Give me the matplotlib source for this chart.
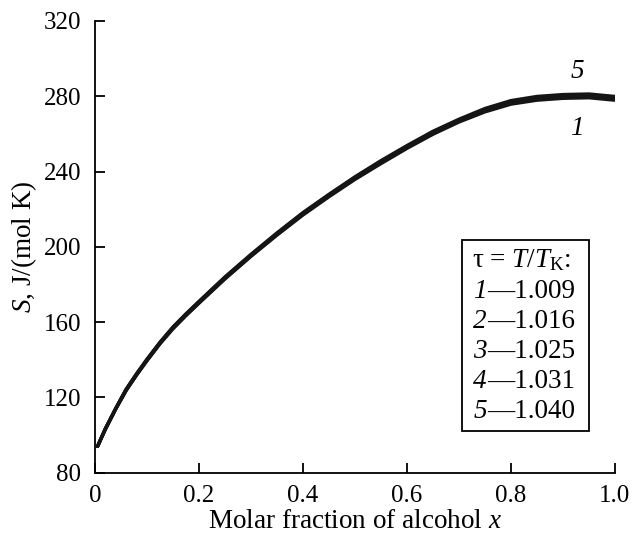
import matplotlib
matplotlib.use("Agg")
import matplotlib.pyplot as plt
from matplotlib.patches import Rectangle

plt.rcParams["font.family"] = ["Liberation Serif", "DejaVu Serif"]
plt.rcParams["mathtext.fontset"] = "custom"
plt.rcParams["mathtext.rm"] = "Liberation Serif"
plt.rcParams["mathtext.it"] = "Liberation Serif:italic"

# molar fraction of alcohol
X = [0.005, 0.02, 0.04, 0.06, 0.08, 0.10, 0.125, 0.15, 0.175, 0.20, 0.25,
     0.30, 0.35, 0.40, 0.45, 0.50, 0.55, 0.60, 0.65, 0.70, 0.75, 0.80,
     0.85, 0.90, 0.95, 1.00]

# entropy S, J/(mol K), curves 1..5
S1 = [94.0, 103.0, 113.8, 123.6, 131.8, 139.4, 148.4, 156.4, 163.4, 170.0,
      182.9, 194.9, 206.2, 216.9, 226.6, 235.8, 244.2, 252.3, 259.8, 266.3,
      271.7, 275.8, 277.9, 278.9, 279.2, 277.9]
S2 = [94.0, 103.1, 113.9, 123.8, 132.0, 139.7, 148.7, 156.7, 163.7, 170.3,
      183.2, 195.2, 206.5, 217.2, 227.0, 236.2, 244.6, 252.7, 260.2, 266.7,
      272.2, 276.3, 278.4, 279.4, 279.7, 278.4]
S3 = [94.0, 103.2, 114.0, 124.0, 132.2, 139.9, 148.9, 157.0, 164.0, 170.6,
      183.5, 195.4, 206.8, 217.6, 227.3, 236.6, 245.0, 253.0, 260.6, 267.0,
      272.6, 276.7, 278.9, 279.9, 280.2, 278.9]
S4 = [94.0, 103.3, 114.1, 124.2, 132.4, 140.1, 149.1, 157.2, 164.2, 170.8,
      183.8, 195.7, 207.1, 217.9, 227.6, 236.9, 245.4, 253.4, 261.0, 267.4,
      273.0, 277.2, 279.4, 280.4, 280.7, 279.4]
S5 = [94.0, 103.4, 114.2, 124.4, 132.6, 140.3, 149.3, 157.4, 164.4, 171.0,
      184.0, 196.0, 207.4, 218.2, 227.9, 237.2, 245.8, 253.8, 261.4, 267.8,
      273.5, 277.7, 279.9, 280.9, 281.2, 279.9]
CURVES = [S1, S2, S3, S4, S5]

CURVE_NUMS = ["1", "2", "3", "4", "5"]
TAU = ["1.009", "1.016", "1.025", "1.031", "1.040"]

X_TICKS = [0, 0.2, 0.4, 0.6, 0.8, 1.0]
X_TICKLABELS = ["0", "0.2", "0.4", "0.6", "0.8", "1.0"]
Y_TICKS = [80, 120, 160, 200, 240, 280, 320]

FS_TICK = 18
FS = 19.5


def main():
    fig = plt.figure(figsize=(6.34, 5.42), dpi=100)
    ax = fig.add_axes([0.1498, 0.128, 0.8202, 0.8333])

    for s in CURVES:
        ax.plot(X, s, color="#151515", linewidth=2.4, solid_capstyle="round",
                solid_joinstyle="round")

    ax.set_xlim(0, 1.0)
    ax.set_ylim(80, 320)
    ax.set_xticks(X_TICKS)
    ax.set_xticklabels(X_TICKLABELS)
    ax.set_yticks(Y_TICKS)

    for side in ("top", "right"):
        ax.spines[side].set_visible(False)
    for side in ("left", "bottom"):
        ax.spines[side].set_linewidth(1.3)
    ax.tick_params(direction="in", length=7, width=1.3, labelsize=FS_TICK)
    ax.tick_params(axis="x", pad=9)
    ax.tick_params(axis="y", pad=10)

    ax.set_xlabel(r"Molar fraction of alcohol $x$", fontsize=FS, labelpad=1)
    ax.set_ylabel(r"$S$, J/(mol K)", fontsize=FS, labelpad=3)

    # curve labels
    ax.text(0.927, 293, "5", style="italic", fontsize=FS, ha="center", va="center")
    ax.text(0.927, 263, "1", style="italic", fontsize=FS, ha="center", va="center")

    # legend box (axes fractions)
    ax.add_patch(Rectangle((0.705, 0.092), 0.245, 0.423, transform=ax.transAxes,
                           facecolor="white", edgecolor="black", linewidth=1.3,
                           zorder=3))
    ax.text(0.725, 0.470, r"τ = $T/T_{\rm K}$:", transform=ax.transAxes,
            fontsize=FS, ha="left", va="center", zorder=4)
    for i, (num, t) in enumerate(zip(CURVE_NUMS, TAU)):
        y = 0.402 - i * 0.0665
        ax.text(0.754, y, num, style="italic", transform=ax.transAxes,
                fontsize=FS, ha="right", va="center", zorder=4)
        ax.text(0.754, y, "—" + t, transform=ax.transAxes,
                fontsize=FS, ha="left", va="center", zorder=4)

    fig.savefig("out.png", dpi=100)


if __name__ == "__main__":
    main()
